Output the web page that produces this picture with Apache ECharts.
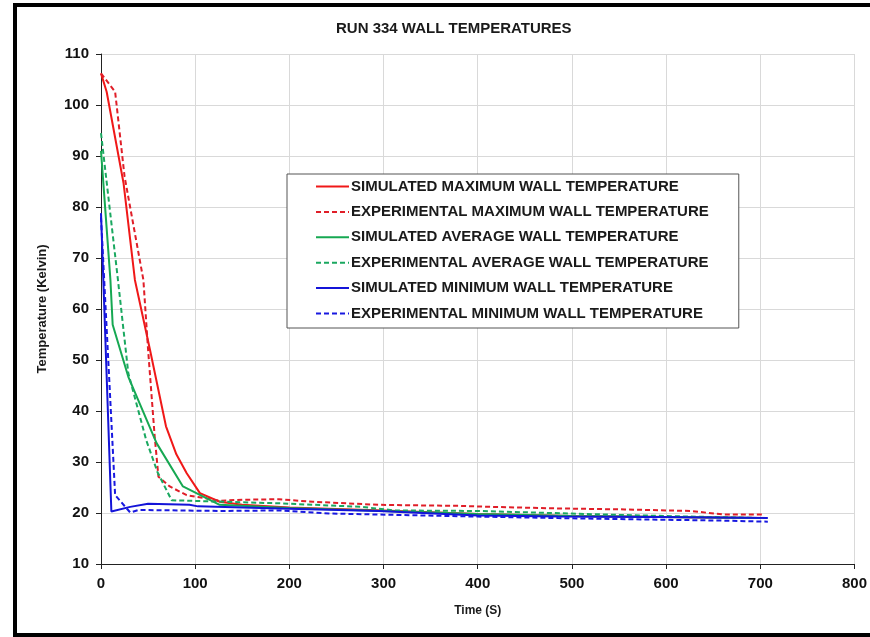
<!DOCTYPE html>
<html>
<head>
<meta charset="utf-8">
<script src="https://cdn.jsdelivr.net/npm/echarts@6/dist/echarts.min.js"></script>
<style>
  html, body { margin: 0; padding: 0; background: #fff; }
  #main { width: 870px; height: 637px; }
</style>
</head>
<body>
<div id="main"></div>
<script>
// time (s) and temperature (K)
var simMaxT = [0, 6, 24, 36, 52, 69, 80, 91, 105, 126, 150, 200, 300, 400, 500, 600, 700];
var simMaxV = [106.2, 102.6, 84.6, 65.7, 52, 37, 31.5, 27.8, 23.9, 22.2, 21.6, 21.1, 20.5, 19.8, 19.4, 19.2, 19.0];

var expMaxT = [0, 15, 25, 45, 50, 57, 61, 73, 91, 126, 150, 189, 225, 295, 380, 415, 485, 556, 626, 661, 704];
var expMaxV = [106.2, 102.6, 86, 65.7, 52, 35, 27.1, 25.2, 23.5, 22.4, 22.6, 22.7, 22.2, 21.6, 21.4, 21.2, 20.9, 20.7, 20.4, 19.7, 19.7];

var simAvgT = [0, 10, 12.4, 29, 59, 87, 126, 200, 300, 400, 500, 600, 700];
var simAvgV = [91, 65.7, 56.9, 46.7, 33.7, 25.2, 21.6, 21.0, 20.4, 19.8, 19.4, 19.2, 19.0];

var expAvgT = [0, 18, 29, 48, 60, 75, 189, 277, 312, 400, 556, 626, 704];
var expAvgV = [94.5, 65.7, 47.4, 34.3, 28, 22.5, 21.9, 21.2, 20.5, 20.4, 19.6, 19.3, 19.0];

var simMinT = [0, 11, 31, 50, 94, 103, 189, 295, 400, 485, 590, 708];
var simMinV = [78.8, 20.3, 21.2, 21.8, 21.6, 21.3, 20.9, 20.4, 19.5, 19.3, 19.2, 19.0];

var expMinT = [0, 15, 31, 40, 126, 189, 242, 400, 485, 626, 661, 708];
var expMinV = [78, 23.5, 20.1, 20.6, 20.4, 20.5, 19.9, 19.3, 19.0, 18.6, 18.5, 18.3];

var names = [
  'SIMULATED MAXIMUM WALL TEMPERATURE',
  'EXPERIMENTAL MAXIMUM WALL TEMPERATURE',
  'SIMULATED AVERAGE WALL TEMPERATURE',
  'EXPERIMENTAL AVERAGE WALL TEMPERATURE',
  'SIMULATED MINIMUM WALL TEMPERATURE',
  'EXPERIMENTAL MINIMUM WALL TEMPERATURE'
];

function pairs(t, v) {
  return t.map(function (x, i) { return [x, v[i]]; });
}

function line(name, t, v, color, dashed) {
  return {
    name: name,
    type: 'line',
    data: pairs(t, v),
    symbol: 'none',
    smooth: false,
    color: color,
    lineStyle: { color: color, width: 2, type: dashed ? [5, 3] : 'solid' }
  };
}

var font = '"Liberation Sans", Arial, sans-serif';
var myChart = echarts.init(document.getElementById('main'));
var option = {
  backgroundColor: '#fff',
  animation: false,
  title: {
    text: 'RUN 334 WALL TEMPERATURES',
    left: 331,
    top: 16,
    textStyle: { color: '#1a1a1a', fontFamily: font, fontWeight: 'bold', fontSize: 15 }
  },
  graphic: [{
    type: 'rect',
    shape: { x: 15, y: 5, width: 870, height: 630 },
    style: { fill: 'none', stroke: '#000', lineWidth: 4 },
    silent: true
  }],
  legend: {
    orient: 'vertical',
    left: 287,
    top: 174,
    padding: [5, 30, 7, 28],
    itemGap: 10.4,
    itemWidth: 33,
    itemHeight: 14,
    backgroundColor: '#fff',
    borderColor: '#555',
    borderWidth: 1,
    data: names,
    itemStyle: { opacity: 0 },
    lineStyle: { width: 2 },
    textStyle: { color: '#1a1a1a', fontFamily: font, fontWeight: 'bold', fontSize: 15, lineHeight: 14, padding: [0, 0, 0, -3] }
  },
  grid: { left: 101, right: 12, top: 54, bottom: 73, containLabel: false },
  xAxis: {
    type: 'value',
    min: 0, max: 800, interval: 100,
    name: 'Time (S)',
    nameLocation: 'middle',
    nameGap: 41,
    nameTextStyle: { color: '#1a1a1a', fontFamily: font, fontWeight: 'bold', fontSize: 12 },
    axisLine: { show: true, onZero: false, lineStyle: { color: '#222', width: 1 } },
    axisTick: { show: true, length: 5, lineStyle: { color: '#222' } },
    axisLabel: { color: '#111', fontFamily: font, fontWeight: 'bold', fontSize: 15, margin: 12 },
    splitLine: { show: true, lineStyle: { color: '#d9d9d9', width: 1 } }
  },
  yAxis: {
    type: 'value',
    min: 10, max: 110, interval: 10,
    name: 'Temperature (Kelvin)',
    nameLocation: 'middle',
    nameGap: 52,
    nameRotate: 90,
    nameTextStyle: { color: '#1a1a1a', fontFamily: font, fontWeight: 'bold', fontSize: 13 },
    axisLine: { show: true, lineStyle: { color: '#222', width: 1 } },
    axisTick: { show: true, length: 5, lineStyle: { color: '#222' } },
    axisLabel: { color: '#111', fontFamily: font, fontWeight: 'bold', fontSize: 15, margin: 12 },
    splitLine: { show: true, lineStyle: { color: '#d9d9d9', width: 1 } }
  },
  series: [
    line(names[0], simMaxT, simMaxV, '#f01818', false),
    line(names[1], expMaxT, expMaxV, '#e01e28', true),
    line(names[2], simAvgT, simAvgV, '#16a852', false),
    line(names[3], expAvgT, expAvgV, '#1aa860', true),
    line(names[4], simMinT, simMinV, '#1414d8', false),
    line(names[5], expMinT, expMinV, '#1818e0', true)
  ]
};
myChart.setOption(option);
</script>
</body>
</html>
